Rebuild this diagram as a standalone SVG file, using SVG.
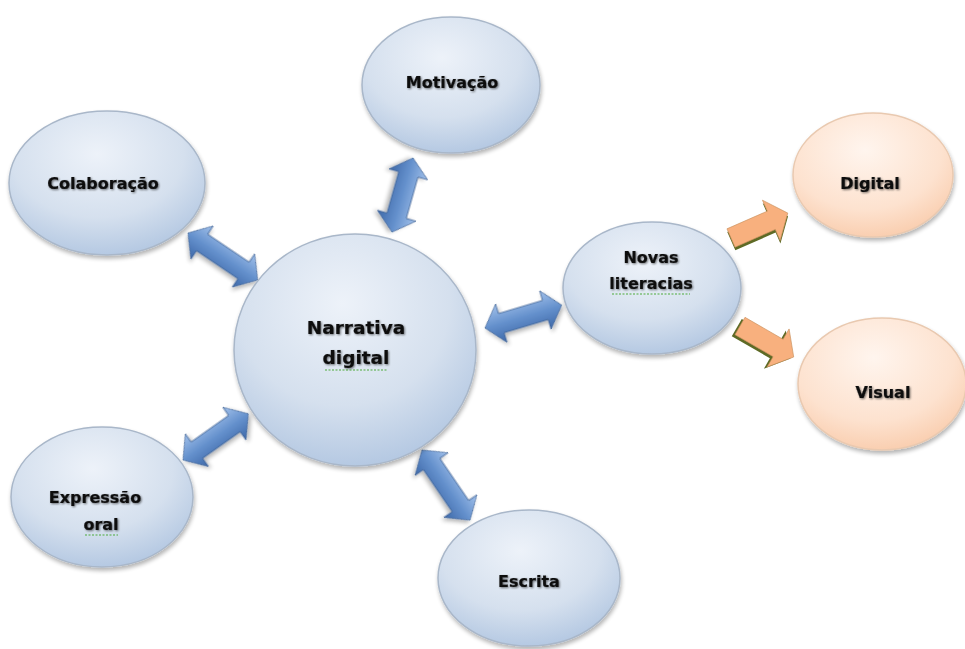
<svg xmlns="http://www.w3.org/2000/svg" width="965" height="649" viewBox="0 0 965 649">
<defs>
<radialGradient id="gBlue" cx="0.45" cy="0.3" r="0.8">
<stop offset="0" stop-color="#edf2f9"/>
<stop offset="0.55" stop-color="#d5e0ee"/>
<stop offset="1" stop-color="#a9c0de"/>
</radialGradient>
<radialGradient id="gOrange" cx="0.45" cy="0.3" r="0.8">
<stop offset="0" stop-color="#fff5ee"/>
<stop offset="0.6" stop-color="#fde2cf"/>
<stop offset="1" stop-color="#f8c6a3"/>
</radialGradient>
<linearGradient id="gArrow" x1="0" y1="0" x2="0" y2="1">
<stop offset="0" stop-color="#a2c1ea"/>
<stop offset="0.5" stop-color="#6591cd"/>
<stop offset="1" stop-color="#3d68a8"/>
</linearGradient>
<filter id="shadow" x="-10%" y="-10%" width="125%" height="130%">
<feGaussianBlur in="SourceAlpha" stdDeviation="2"/>
<feOffset dx="1" dy="3" result="b"/>
<feComponentTransfer><feFuncA type="linear" slope="0.3"/></feComponentTransfer>
<feMerge><feMergeNode/><feMergeNode in="SourceGraphic"/></feMerge>
</filter>
<filter id="tglow" x="-10%" y="-30%" width="120%" height="160%">
<feGaussianBlur in="SourceAlpha" stdDeviation="1.3"/>
<feOffset dx="1" dy="1"/>
<feComponentTransfer><feFuncA type="linear" slope="0.55"/></feComponentTransfer>
<feMerge><feMergeNode/><feMergeNode in="SourceGraphic"/></feMerge>
</filter>
</defs>
<style>
.blue{fill:url(#gBlue);stroke:#a9b7c9;stroke-width:1.5;filter:url(#shadow)}
.orange{fill:url(#gOrange);stroke:#e9c9b0;stroke-width:1.5;filter:url(#shadow)}
.lbl{font-family:"DejaVu Sans","Liberation Sans",sans-serif;font-weight:bold;font-size:16px;fill:#111;stroke:#111;stroke-width:0.2;text-anchor:middle;filter:url(#tglow)}
.big{font-size:18.5px}
.dbl{fill:url(#gArrow);stroke:#3f6296;stroke-width:0.8;filter:url(#shadow)}
.osh{fill:#5e6a25}
.ofill{fill:#f8b07e;stroke:#c9925e;stroke-width:0.6}
.squig{fill:none;stroke:#4caa3a;stroke-width:1.2;stroke-dasharray:2 1.5}
</style>
<rect width="965" height="649" fill="#ffffff"/>
<g id="connectors">
<polygon class="dbl" transform="translate(188,233) rotate(34)" points="0,0 17,-20 17,-10 67,-10 67,-20 84,0 67,20 67,10 17,10 17,20"/>
<polygon class="dbl" transform="translate(413,158) rotate(105.8)" points="0,0 17,-20 17,-10 60,-10 60,-20 77,0 60,20 60,10 17,10 17,20"/>
<polygon class="dbl" transform="translate(183,460) rotate(-35.3)" points="0,0 17,-20 17,-10 63,-10 63,-20 80,0 63,20 63,10 17,10 17,20"/>
<polygon class="dbl" transform="translate(422,450) rotate(55.6)" points="0,0 17,-20 17,-10 68,-10 68,-20 85,0 68,20 68,10 17,10 17,20"/>
<polygon class="dbl" transform="translate(485,328) rotate(-16.6)" points="0,0 17,-20 17,-10 63,-10 63,-20 80,0 63,20 63,10 17,10 17,20"/>
<g transform="translate(731,238) rotate(-23.7)">
<polygon class="osh" transform="translate(-1,3)" points="0,-10 44,-10 44,-22 62,0 44,22 44,10 0,10"/>
<polygon class="ofill" points="0,-10 44,-10 44,-22 62,0 44,22 44,10 0,10"/>
</g>
<g transform="translate(740,326) rotate(30)">
<polygon class="osh" transform="translate(-2,3)" points="0,-10 44,-10 44,-22 62,0 44,22 44,10 0,10"/>
<polygon class="ofill" points="0,-10 44,-10 44,-22 62,0 44,22 44,10 0,10"/>
</g>
</g>
<g id="narrativa">
<ellipse class="blue" cx="355" cy="350" rx="121" ry="116"/>
<text class="lbl big" x="356" y="334">Narrativa</text>
<text class="lbl big" x="356" y="364">digital</text>
<line class="squig" x1="325" y1="370" x2="388" y2="370"/>
</g>
<g id="motivacao">
<ellipse class="blue" cx="451" cy="85" rx="89" ry="68"/>
<text class="lbl" x="452" y="88">Motivação</text>
</g>
<g id="colaboracao">
<ellipse class="blue" cx="107" cy="183" rx="98" ry="72"/>
<text class="lbl" x="103" y="189">Colaboração</text>
</g>
<g id="novas">
<ellipse class="blue" cx="652" cy="288" rx="89" ry="66"/>
<text class="lbl" x="651" y="263">Novas</text>
<text class="lbl" x="651" y="289">literacias</text>
<line class="squig" x1="612" y1="294" x2="690" y2="294"/>
</g>
<g id="expressao">
<ellipse class="blue" cx="102" cy="497" rx="91" ry="70"/>
<text class="lbl" x="95" y="503">Expressão</text>
<text class="lbl" x="101" y="530">oral</text>
<line class="squig" x1="85" y1="535" x2="118" y2="535"/>
</g>
<g id="escrita">
<ellipse class="blue" cx="529" cy="578" rx="91" ry="68"/>
<text class="lbl" x="529" y="587">Escrita</text>
</g>
<g id="digital">
<ellipse class="orange" cx="873" cy="175" rx="80" ry="62"/>
<text class="lbl" x="870" y="189">Digital</text>
</g>
<g id="visual">
<ellipse class="orange" cx="882" cy="384" rx="84" ry="66"/>
<text class="lbl" x="883" y="398">Visual</text>
</g>
</svg>
